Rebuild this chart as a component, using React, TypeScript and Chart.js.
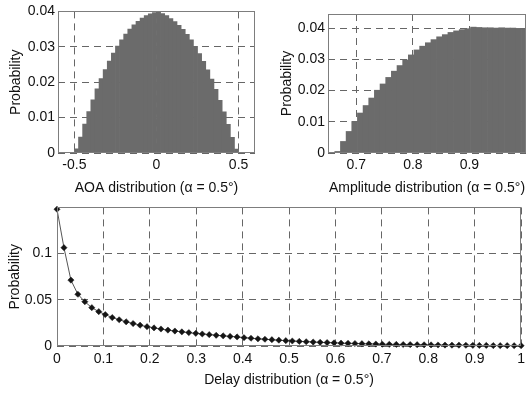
import React, { useEffect, useRef } from "react";
import { Chart, registerables } from "chart.js";

Chart.register(...registerables);

// ---------- data ----------
const aoaCenters = [
  -0.4875, -0.4625, -0.4375, -0.4125, -0.3875, -0.3625, -0.3375, -0.3125, -0.2875, -0.2625,
  -0.2375, -0.2125, -0.1875, -0.1625, -0.1375, -0.1125, -0.0875, -0.0625, -0.0375, -0.0125,
  0.0125, 0.0375, 0.0625, 0.0875, 0.1125, 0.1375, 0.1625, 0.1875, 0.2125, 0.2375,
  0.2625, 0.2875, 0.3125, 0.3375, 0.3625, 0.3875, 0.4125, 0.4375, 0.4625, 0.4875,
];
const aoaProb = [
  0.0012, 0.0045, 0.0082, 0.0117, 0.015, 0.0181, 0.021, 0.0236, 0.026, 0.0282,
  0.0302, 0.032, 0.0336, 0.035, 0.0362, 0.0372, 0.0381, 0.0388, 0.0393, 0.0397,
  0.0398, 0.0394, 0.0388, 0.038, 0.0371, 0.0361, 0.0349, 0.0335, 0.032, 0.0301,
  0.0281, 0.0259, 0.0235, 0.0209, 0.018, 0.0149, 0.0116, 0.0081, 0.0044, 0.0011,
];

const ampCenters = [
  0.667, 0.677, 0.687, 0.697, 0.707, 0.717, 0.727, 0.737, 0.747, 0.757,
  0.767, 0.777, 0.787, 0.797, 0.807, 0.817, 0.827, 0.837, 0.847, 0.857,
  0.867, 0.877, 0.887, 0.897, 0.907, 0.917, 0.927, 0.937, 0.947, 0.957,
  0.967, 0.977, 0.987, 0.997,
];
const ampProb = [
  0.0005, 0.0037, 0.0069, 0.0101, 0.0128, 0.0152, 0.0176, 0.0201, 0.0221, 0.0242,
  0.0262, 0.028, 0.0298, 0.0314, 0.033, 0.0342, 0.0353, 0.0363, 0.0372, 0.0379,
  0.0386, 0.0391, 0.0395, 0.0398, 0.0403, 0.0402, 0.0401, 0.0401, 0.04, 0.0401,
  0.04, 0.04, 0.0399, 0.0398,
];

const delayValues = [
  0, 0.015, 0.03, 0.045, 0.06, 0.075, 0.09, 0.104, 0.119, 0.134,
  0.149, 0.164, 0.179, 0.194, 0.209, 0.224, 0.239, 0.254, 0.269, 0.284,
  0.299, 0.313, 0.328, 0.343, 0.358, 0.373, 0.388, 0.403, 0.418, 0.433,
  0.448, 0.463, 0.478, 0.493, 0.507, 0.522, 0.537, 0.552, 0.567, 0.582,
  0.597, 0.612, 0.627, 0.642, 0.657, 0.672, 0.687, 0.701, 0.716, 0.731,
  0.746, 0.761, 0.776, 0.791, 0.806, 0.821, 0.836, 0.851, 0.866, 0.881,
  0.896, 0.91, 0.925, 0.94, 0.955, 0.97, 0.985, 1.0,
];
const delayProb = [
  0.148, 0.1064, 0.0713, 0.056, 0.0479, 0.0415, 0.0372, 0.034, 0.0308, 0.0284,
  0.0262, 0.0243, 0.0225, 0.0209, 0.0196, 0.0184, 0.0172, 0.0162, 0.0153, 0.0145,
  0.0137, 0.013, 0.0123, 0.0116, 0.011, 0.0104, 0.0098, 0.009, 0.0084, 0.0078,
  0.0073, 0.0068, 0.0063, 0.0058, 0.0054, 0.005, 0.0046, 0.0043, 0.004, 0.0037,
  0.0034, 0.0031, 0.0029, 0.0027, 0.0025, 0.0023, 0.0021, 0.0019, 0.0018, 0.0017,
  0.0016, 0.0015, 0.0014, 0.0013, 0.0012, 0.0011, 0.001, 0.0009, 0.0009, 0.0008,
  0.0007, 0.0006, 0.0006, 0.0005, 0.0004, 0.0004, 0.0003, 0.0003,
];

const aoaTicks = [-0.5, 0, 0.5];
const ampTicks = [0.7, 0.8, 0.9];
const delayTicks = [0, 0.1, 0.2, 0.3, 0.4, 0.5, 0.6, 0.7, 0.8, 0.9, 1];
const probTicksSmall = [0, 0.01, 0.02, 0.03, 0.04];
const probTicksDelay = [0, 0.05, 0.1];

// ---------- styling ----------
const FONT_FAMILY = "'Liberation Sans', Arial, sans-serif";
const TEXT = "#111111";
const GRID = "#666666";
const BAR = "#6b6b6b";

const boxPlugin = {
  id: "boxOutline",
  afterDraw(chart: any) {
    const { ctx, chartArea } = chart;
    const l = Math.round(chartArea.left) + 0.5;
    const t = Math.round(chartArea.top) + 0.5;
    const r = Math.round(chartArea.right) - 0.5;
    const b = Math.round(chartArea.bottom) - 0.5;
    ctx.save();
    ctx.strokeStyle = "#7d7d7d";
    ctx.lineWidth = 1;
    ctx.setLineDash([]);
    ctx.strokeRect(l, t, r - l, b - t);
    ctx.restore();
  },
};

function fixedTicks(values: number[]) {
  return (scale: any) => {
    scale.ticks = values.map((v) => ({ value: v }));
  };
}

function axis(opts: {
  min: number;
  max: number;
  ticks: number[];
  size: number;
  horizontal: boolean;
  title: string;
  titlePad: any;
  tickPad: number;
}) {
  return {
    type: "linear",
    min: opts.min,
    max: opts.max,
    offset: false,
    afterBuildTicks: fixedTicks(opts.ticks),
    afterFit: (s: any) => {
      if (opts.horizontal) s.height = opts.size;
      else s.width = opts.size;
    },
    grid: { color: GRID, lineWidth: 1, drawTicks: false, offset: false },
    border: { display: false, dash: [7, 5] },
    ticks: {
      padding: opts.tickPad,
      color: TEXT,
      font: { family: FONT_FAMILY, size: 14 },
      maxRotation: 0,
      autoSkip: false,
      callback: (v: any) => String(v),
    },
    title: {
      display: true,
      text: opts.title,
      color: TEXT,
      font: { family: FONT_FAMILY, size: 14 },
      padding: opts.titlePad,
    },
  };
}

function useChart(build: () => any) {
  const ref = useRef<HTMLCanvasElement | null>(null);
  useEffect(() => {
    if (!ref.current) return;
    const chart = new Chart(ref.current, build());
    return () => chart.destroy();
  }, []);
  return ref;
}

function AoaChart() {
  const ref = useChart(() => ({
    type: "bar",
    data: {
      datasets: [
        {
          data: aoaCenters.map((x, i) => ({ x, y: aoaProb[i] })),
          backgroundColor: BAR,
          borderWidth: 0,
          barPercentage: 1,
          categoryPercentage: 1,
        },
      ],
    },
    options: {
      animation: false,
      responsive: false,
      devicePixelRatio: 1,
      layout: { padding: { left: 0, top: 11, right: 10, bottom: 0 } },
      plugins: { legend: { display: false }, tooltip: { enabled: false } },
      scales: {
        x: axis({ min: -0.6, max: 0.6, ticks: aoaTicks, size: 47, horizontal: true, title: "AOA distribution (α = 0.5°)", titlePad: { top: 0, bottom: 3.6 }, tickPad: 4 }),
        y: axis({ min: 0, max: 0.04, ticks: probTicksSmall, size: 58, horizontal: false, title: "Probability", titlePad: { top: 7.6, bottom: 0 }, tickPad: 3 }),
      },
    },
    plugins: [boxPlugin],
  }));
  return (
    <canvas
      ref={ref}
      width={265}
      height={200}
      style={{ position: "absolute", left: 0, top: 0, width: 265, height: 200 }}
    />
  );
}

function AmpChart() {
  const ref = useChart(() => ({
    type: "bar",
    data: {
      datasets: [
        {
          data: ampCenters.map((x, i) => ({ x, y: ampProb[i] })),
          backgroundColor: BAR,
          borderWidth: 0,
          barPercentage: 1,
          categoryPercentage: 1,
        },
      ],
    },
    options: {
      animation: false,
      responsive: false,
      devicePixelRatio: 1,
      layout: { padding: { left: 0, top: 14, right: 4, bottom: 0 } },
      plugins: { legend: { display: false }, tooltip: { enabled: false } },
      scales: {
        x: axis({ min: 0.65, max: 1.0, ticks: ampTicks, size: 47, horizontal: true, title: "Amplitude distribution (α = 0.5°)", titlePad: { top: 0, bottom: 3.6 }, tickPad: 4 }),
        y: axis({ min: 0, max: 0.0445, ticks: probTicksSmall, size: 63, horizontal: false, title: "Probability", titlePad: { top: 13.3, bottom: 0 }, tickPad: 3 }),
      },
    },
    plugins: [boxPlugin],
  }));
  return (
    <canvas
      ref={ref}
      width={265}
      height={200}
      style={{ position: "absolute", left: 265, top: 0, width: 265, height: 200 }}
    />
  );
}

function DelayChart() {
  const ref = useChart(() => ({
    type: "line",
    data: {
      datasets: [
        {
          data: delayValues.map((x, i) => ({ x, y: delayProb[i] })),
          borderColor: "#555555",
          borderWidth: 1,
          tension: 0,
          pointStyle: "rectRot",
          pointRadius: 3.1,
          pointBackgroundColor: "#151515",
          pointBorderColor: "#151515",
          pointBorderWidth: 0.5,
          fill: false,
          clip: 4,
        },
      ],
    },
    options: {
      animation: false,
      responsive: false,
      devicePixelRatio: 1,
      layout: { padding: { left: 0, top: 11, right: 7, bottom: 0 } },
      plugins: { legend: { display: false }, tooltip: { enabled: false } },
      scales: {
        x: axis({ min: 0, max: 1, ticks: delayTicks, size: 48, horizontal: true, title: "Delay distribution (α = 0.5°)", titlePad: { top: 0, bottom: 5.6 }, tickPad: 5 }),
        y: axis({ min: 0, max: 0.15, ticks: probTicksDelay, size: 57, horizontal: false, title: "Probability", titlePad: { top: 6.6, bottom: 0 }, tickPad: 5 }),
      },
    },
    plugins: [boxPlugin],
  }));
  return (
    <canvas
      ref={ref}
      width={530}
      height={200}
      style={{ position: "absolute", left: 0, top: 194, width: 530, height: 200 }}
    />
  );
}

export default function App() {
  return (
    <div
      style={{
        position: "absolute",
        left: 0,
        top: 0,
        width: 530,
        height: 394,
        background: "#ffffff",
        overflow: "hidden",
      }}
    >
      <AoaChart />
      <AmpChart />
      <DelayChart />
    </div>
  );
}
